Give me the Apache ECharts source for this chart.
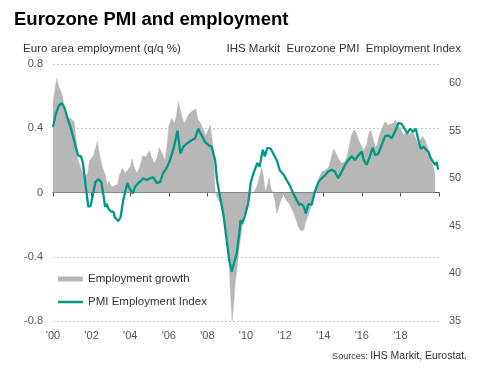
<!DOCTYPE html>
<html>
<head>
<meta charset="utf-8">
<script src="https://cdn.jsdelivr.net/npm/echarts@6/dist/echarts.min.js"></script>
<style>
html,body{margin:0;padding:0;background:#fff;}
#chart{width:484px;height:374px;}
</style>
</head>
<body>
<div id="chart"></div>
<script>
// Employment growth (q/q %): decimal year / value
const empX = [2000.0,2000.1,2000.2,2000.3,2000.45,2000.55,2000.75,2000.9,2001.1,2001.2,2001.3,2001.47,2001.65,2001.8,2001.9,2002.0,2002.1,2002.2,2002.3,2002.4,2002.55,2002.7,2002.8,2002.9,2003.05,2003.2,2003.35,2003.45,2003.6,2003.75,2003.85,2004.0,2004.1,2004.2,2004.35,2004.5,2004.65,2004.8,2005.0,2005.1,2005.25,2005.4,2005.5,2005.65,2005.8,2005.9,2006.0,2006.15,2006.3,2006.4,2006.5,2006.65,2006.8,2006.9,2007.05,2007.25,2007.4,2007.5,2007.6,2007.8,2007.9,2008.05,2008.15,2008.25,2008.3,2008.4,2008.5,2008.6,2008.75,2008.85,2009.0,2009.12,2009.2,2009.28,2009.38,2009.45,2009.55,2009.65,2009.75,2009.82,2009.9,2010.05,2010.15,2010.25,2010.4,2010.55,2010.75,2010.8,2010.9,2010.95,2011.0,2011.1,2011.2,2011.3,2011.4,2011.5,2011.6,2011.7,2011.8,2011.95,2012.1,2012.25,2012.45,2012.6,2012.7,2012.85,2013.0,2013.1,2013.25,2013.4,2013.5,2013.65,2013.8,2013.95,2014.15,2014.3,2014.45,2014.55,2014.65,2014.8,2014.95,2015.1,2015.2,2015.35,2015.45,2015.6,2015.72,2015.85,2016.0,2016.1,2016.25,2016.35,2016.45,2016.55,2016.7,2016.8,2016.9,2017.05,2017.2,2017.35,2017.45,2017.6,2017.75,2017.85,2018.0,2018.15,2018.3,2018.45,2018.6,2018.75,2018.9,2019.0,2019.15,2019.3,2019.45,2019.55,2019.7,2019.8];
const empY = [0.555,0.64,0.71,0.66,0.617,0.555,0.47,0.46,0.44,0.326,0.2,0.14,0.097,0.12,0.2,0.21,0.232,0.274,0.315,0.243,0.16,0.11,0.045,0.07,0.035,0.045,0.05,0.11,0.15,0.12,0.11,0.16,0.21,0.16,0.12,0.16,0.23,0.22,0.26,0.22,0.18,0.22,0.28,0.245,0.2,0.28,0.41,0.46,0.43,0.48,0.565,0.48,0.43,0.44,0.49,0.51,0.52,0.455,0.44,0.39,0.35,0.39,0.42,0.43,0.28,0.0,-0.01,-0.05,-0.09,-0.17,-0.28,-0.42,-0.63,-0.8,-0.67,-0.55,-0.46,-0.34,-0.26,-0.19,-0.15,-0.09,-0.05,0.0,0.0,0.035,0.12,0.16,0.1,0.05,0.0,0.04,0.09,0.02,0.0,-0.05,-0.13,-0.09,-0.05,-0.01,-0.05,-0.07,-0.12,-0.17,-0.21,-0.24,-0.23,-0.18,-0.13,-0.07,0.0,0.035,0.097,0.13,0.14,0.16,0.23,0.27,0.26,0.21,0.18,0.19,0.21,0.285,0.35,0.39,0.37,0.32,0.285,0.26,0.3,0.36,0.39,0.35,0.28,0.3,0.35,0.4,0.44,0.42,0.41,0.43,0.45,0.42,0.40,0.36,0.37,0.36,0.38,0.35,0.3,0.32,0.35,0.32,0.26,0.21,0.16,0.12];

// PMI Employment Index: decimal year / value
const pmiX = [2000.0,2000.15,2000.3,2000.45,2000.6,2000.75,2000.9,2001.05,2001.15,2001.3,2001.45,2001.55,2001.7,2001.83,2001.95,2002.1,2002.2,2002.35,2002.5,2002.6,2002.7,2002.78,2002.87,2003.0,2003.04,2003.13,2003.2,2003.3,2003.38,2003.5,2003.64,2003.85,2004.0,2004.13,2004.25,2004.42,2004.55,2004.68,2004.85,2005.03,2005.2,2005.37,2005.55,2005.7,2005.92,2006.06,2006.27,2006.45,2006.5,2006.6,2006.75,2006.9,2007.05,2007.19,2007.36,2007.53,2007.62,2007.7,2007.88,2008.05,2008.22,2008.4,2008.5,2008.65,2008.82,2009.0,2009.13,2009.26,2009.35,2009.52,2009.65,2009.72,2009.8,2009.95,2010.12,2010.24,2010.38,2010.59,2010.7,2010.87,2010.98,2011.1,2011.28,2011.41,2011.59,2011.76,2011.97,2012.11,2012.28,2012.45,2012.63,2012.76,2012.87,2013.0,2013.1,2013.23,2013.4,2013.57,2013.66,2013.75,2013.92,2014.1,2014.26,2014.44,2014.6,2014.78,2014.96,2015.13,2015.3,2015.48,2015.65,2015.82,2016.0,2016.1,2016.25,2016.42,2016.56,2016.7,2016.86,2017.03,2017.2,2017.37,2017.55,2017.72,2017.9,2018.07,2018.24,2018.36,2018.5,2018.65,2018.8,2018.93,2019.05,2019.2,2019.33,2019.45,2019.57,2019.7,2019.8,2019.88,2019.95];
const pmiY = [55.4,56.8,57.6,57.9,57.4,56.3,55.4,54.3,53.5,52.4,52.3,51.6,49.1,47.0,47.1,48.6,49.6,49.9,49.6,48.4,47.0,47.3,46.8,46.5,46.3,46.5,45.9,45.8,45.5,45.9,47.7,49.5,48.8,48.4,49.1,49.5,49.7,50.0,49.8,50.0,50.1,49.5,49.6,50.5,51.2,51.9,53.3,55.0,55.2,52.6,53.3,53.6,53.8,54.0,54.2,55.2,54.8,54.5,53.8,53.5,53.3,51.9,49.8,48.1,46.3,43.5,41.4,40.2,40.3,42.1,44.2,45.6,45.2,46.1,47.4,49.5,50.5,51.6,51.2,53.0,52.3,53.2,53.1,52.6,51.9,50.8,50.3,49.8,49.2,48.4,47.7,47.2,47.3,47.0,46.3,47.3,47.2,48.6,49.1,49.6,50.0,50.3,50.7,50.9,50.7,50.0,50.7,51.4,51.9,52.3,51.9,52.4,52.8,51.9,51.4,52.3,53.2,52.4,52.6,53.5,54.4,54.5,54.2,54.9,55.8,55.7,55.1,54.7,55.2,54.9,55.2,54.0,53.1,53.3,53.0,52.8,52.1,51.7,51.4,51.7,50.9];

const leftTicks = [-0.8, -0.4, 0, 0.4, 0.8];
const rightTicks = [35, 40, 45, 50, 55, 60];
const yearTicks = [2000, 2002, 2004, 2006, 2008, 2010, 2012, 2014, 2016, 2018];

const empData = empX.map((x, i) => [x, empY[i]]);
const pmiData = pmiX.map((x, i) => [x, pmiY[i]]);

const FONT = 'Liberation Sans, Arial, sans-serif';
// thin line legend icon (tiny corner specks keep the 25x5 bounding box)
const LINE_ICON = 'path://M0,0L0.01,0L0,0.01Z M0,1.35L25,1.35L25,3.65L0,3.65Z M25,5L24.99,5L25,4.99Z';

const chart = echarts.init(document.getElementById('chart'), null, {renderer: 'canvas'});
chart.setOption({
  animation: false,
  backgroundColor: '#fff',
  title: {
    text: 'Eurozone PMI and employment',
    left: 9, top: 5,
    textStyle: {fontFamily: FONT, fontSize: 18.5, fontWeight: 'bold', color: '#000'}
  },
  graphic: [
    {type: 'text', left: 23, top: 43, style: {text: 'Euro area employment (q/q %)', font: '11.6px ' + FONT, fill: '#333'}},
    {type: 'text', right: 23, top: 43, style: {text: 'IHS Markit  Eurozone PMI  Employment Index', font: '11.5px ' + FONT, fill: '#333'}},
    {type: 'text', right: 17, top: 351, style: {
      rich: {a: {fontSize: 9, fontFamily: FONT, fill: '#333'}, b: {fontSize: 10.5, fontFamily: FONT, fill: '#333'}},
      text: '{a|Sources: }{b|IHS Markit, Eurostat.}'
    }}
  ],
  legend: {
    orient: 'vertical', left: 53, top: 268,
    itemWidth: 25, itemHeight: 5, itemGap: 11,
    textStyle: {fontFamily: FONT, fontSize: 11.5, color: '#333'},
    data: [{name: 'Employment growth', icon: 'rect'}, {name: 'PMI Employment Index', icon: LINE_ICON}]
  },
  grid: {left: 53, right: 45, top: 64, bottom: 53},
  xAxis: [
    {
      type: 'value', min: 2000, max: 2020, interval: 2,
      axisLine: {show: false, onZero: false}, axisTick: {show: false}, splitLine: {show: false},
      axisLabel: {
        margin: 9, fontFamily: FONT, fontSize: 11, color: '#555', showMaxLabel: false,
        formatter: v => yearTicks.indexOf(v) >= 0 ? "'" + String(v % 100).padStart(2, '0') : ''
      }
    },
    {
      type: 'value', min: 2000, max: 2020, interval: 2, position: 'bottom',
      axisLine: {show: true, onZero: true, onZeroAxisIndex: 0, lineStyle: {color: '#555', width: 1}},
      axisTick: {show: true, length: 4, lineStyle: {color: '#555'}},
      axisLabel: {show: false}, splitLine: {show: false}
    }
  ],
  yAxis: [
    {
      type: 'value', min: -0.8, max: 0.8, interval: 0.4, position: 'left',
      axisLine: {show: false}, axisTick: {show: false},
      splitLine: {show: true, lineStyle: {color: '#c8c8c8', type: [2, 2], width: 1}},
      axisLabel: {
        margin: 10, fontFamily: FONT, fontSize: 11, color: '#555',
        formatter: v => { const r = Math.round(v * 10) / 10; return leftTicks.indexOf(r) >= 0 ? (r === 0 ? '0' : r.toFixed(1)) : ''; }
      }
    },
    {
      type: 'value', min: 35, max: 62, interval: 5, position: 'right',
      axisLine: {show: false}, axisTick: {show: false}, splitLine: {show: false},
      axisLabel: {
        margin: 10, fontFamily: FONT, fontSize: 11, color: '#555', showMaxLabel: false,
        formatter: v => rightTicks.indexOf(v) >= 0 ? String(v) : ''
      }
    }
  ],
  series: [
    {
      name: 'Employment growth', type: 'line', xAxisIndex: 0, yAxisIndex: 0,
      data: empData, symbol: 'none', color: '#b7b7b7',
      lineStyle: {width: 0.5, color: '#b7b7b7'},
      areaStyle: {color: '#b7b7b7', opacity: 1},
      z: 1
    },
    {
      name: 'PMI Employment Index', type: 'line', xAxisIndex: 0, yAxisIndex: 1,
      data: pmiData, symbol: 'none', color: '#009985',
      lineStyle: {width: 2.3, color: '#009985'},
      z: 5
    }
  ]
});
</script>
</body>
</html>
